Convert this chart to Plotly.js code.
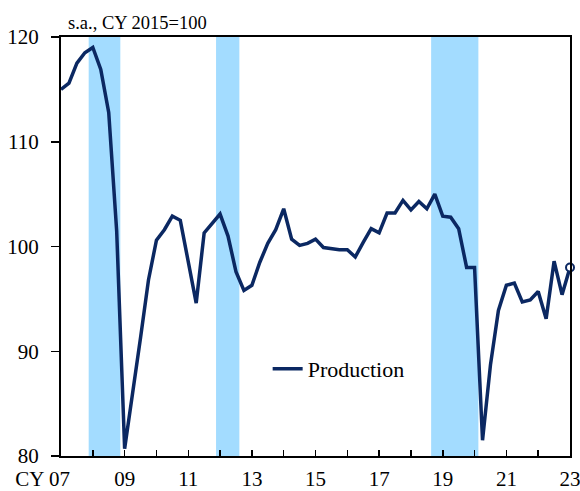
<!DOCTYPE html>
<html>
<head>
<meta charset="utf-8">
<script src="https://cdn.plot.ly/plotly-3.0.1.min.js"></script>
<style>html,body{margin:0;padding:0;background:#fff;}#chart{width:580px;height:491px;}</style>
</head>
<body>
<div id="chart"></div>
<script>
// Quarterly production index, s.a., CY2015=100, from 2007 Q1 to 2023 Q1
var startYear = 2007;
var production = [
  115.0, 115.6, 117.5, 118.5,           // 2007
  119.0, 116.9, 112.8, 101.5,           // 2008
  80.7, 85.8, 91.3, 96.8,               // 2009
  100.6, 101.6, 102.9, 102.5,           // 2010
  98.6, 94.6, 101.3, 102.2,             // 2011
  103.1, 101.0, 97.6, 95.8,             // 2012
  96.3, 98.5, 100.3, 101.6,             // 2013
  103.6, 100.7, 100.1, 100.3,           // 2014
  100.7, 99.9, 99.8, 99.7,              // 2015
  99.7, 99.0, 100.4, 101.7,             // 2016
  101.3, 103.2, 103.2, 104.4,           // 2017
  103.5, 104.3, 103.6, 105.0,           // 2018
  102.9, 102.8, 101.7, 98.0,            // 2019
  98.0, 81.5, 88.7, 93.9,               // 2020
  96.3, 96.5, 94.7, 94.9,               // 2021
  95.7, 93.1, 98.6, 95.4,               // 2022
  98.0                                  // 2023 Q1
];
// Shaded periods (decimal years)
var recessionStart = [2007.87, 2011.874, 2018.635];
var recessionEnd   = [2008.865, 2012.607, 2020.12];
// Axis ticks
var yearTicks = [2007,2008,2009,2010,2011,2012,2013,2014,2015,2016,2017,2018,2019,2020,2021,2022,2023];
var yearLabels = ["CY 07\u00a0\u00a0\u00a0\u00a0\u00a0\u00a0\u00a0","","09","","11","","13","","15","","17","","19","","21","","23"];
var yTicks = [80, 90, 100, 110, 120];
var seriesName = "Production";
var unitNote = "s.a., CY 2015=100";

var xq = production.map(function(v, i){ return startYear + i / 4; });
var navy = "#0b2862";
var font = "'Liberation Serif', 'Times New Roman', serif";

var traces = [
  {x: xq, y: production, type: "scatter", mode: "lines", name: seriesName,
   line: {color: navy, width: 3.5}},
  {x: [xq[xq.length-1]], y: [production[production.length-1]], type: "scatter", mode: "markers",
   showlegend: false, cliponaxis: false,
   marker: {size: 8, color: "#ffffff", line: {color: navy, width: 2}}}
];

var shapes = recessionStart.map(function(s, i){
  return {type: "rect", xref: "x", yref: "paper", x0: s, x1: recessionEnd[i], y0: 0, y1: 1,
          fillcolor: "#a3dcff", line: {width: 0}, layer: "below"};
});

var layout = {
  width: 580, height: 491,
  margin: {l: 61, r: 10, t: 37, b: 35},
  paper_bgcolor: "#ffffff", plot_bgcolor: "#ffffff",
  font: {family: font, size: 21, color: "#000"},
  showlegend: true,
  legend: {x: 0.406, y: 0.208, xanchor: "left", yanchor: "middle", bgcolor: "rgba(0,0,0,0)",
           font: {family: font, size: 22, color: "#000"}},
  xaxis: {range: [2007, 2023], tickvals: yearTicks, ticktext: yearLabels,
          ticks: "inside", ticklen: 6, tickwidth: 1.5, tickcolor: "#000",
          ticklabelstandoff: 3, ticklabeloverflow: "allow",
          showline: true, linecolor: "#000", linewidth: 2, mirror: true,
          showgrid: false, zeroline: false, fixedrange: true,
          tickfont: {family: font, size: 21}},
  yaxis: {range: [80, 120], tickvals: yTicks,
          ticks: "outside", ticklen: 8, tickwidth: 1.5, tickcolor: "#000",
          ticklabelstandoff: 8, ticklabeloverflow: "allow",
          showline: true, linecolor: "#000", linewidth: 2, mirror: true,
          showgrid: false, zeroline: false, fixedrange: true,
          tickfont: {family: font, size: 21}},
  shapes: shapes,
  annotations: [{text: unitNote, xref: "paper", yref: "paper", x: 0, y: 1, xanchor: "left", yanchor: "bottom",
                 xshift: 5, yshift: 2, showarrow: false, font: {family: font, size: 18.5, color: "#000"}}]
};

Plotly.newPlot("chart", traces, layout, {displayModeBar: false, staticPlot: true});
</script>
</body>
</html>
